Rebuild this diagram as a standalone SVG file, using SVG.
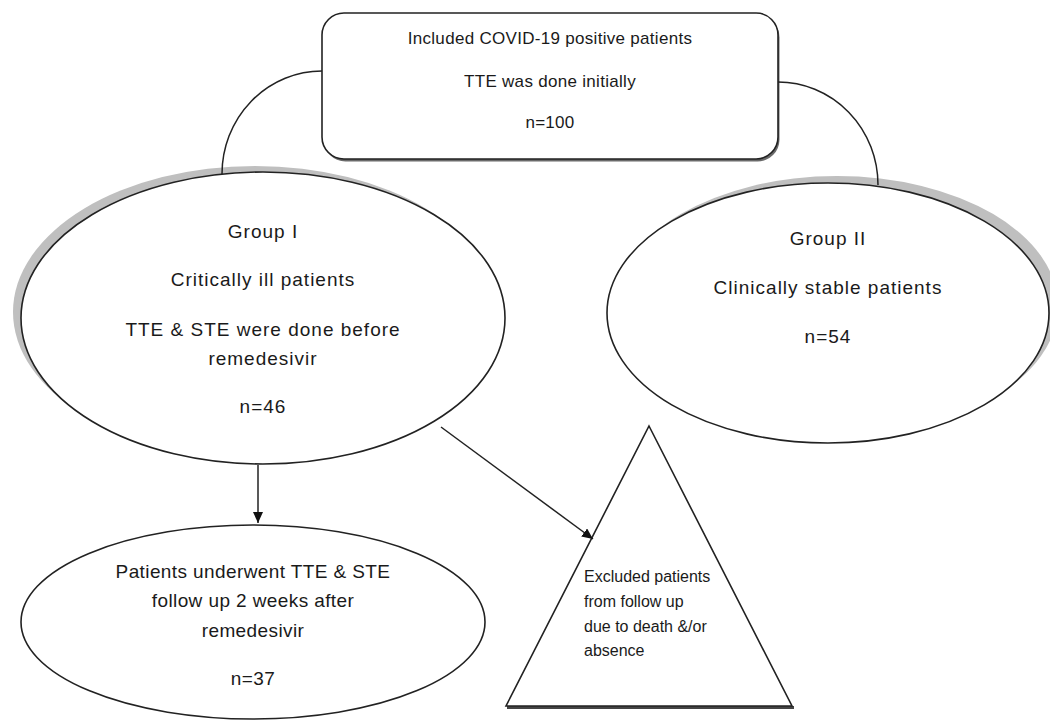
<svg xmlns="http://www.w3.org/2000/svg" width="1050" height="722" viewBox="0 0 1050 722">
<style>
  .txt{font-family:"Liberation Sans",Arial,sans-serif;fill:#1a1a1a}
  .g{font-size:19px;letter-spacing:1px}
  .top{font-size:17px;letter-spacing:0.3px}
  .bot{font-size:19px;letter-spacing:0.4px}
  .tri{font-size:16px}
  .shape{fill:#fff;stroke:#222;stroke-width:1.6}
  .shadow{fill:#bfbfbf;stroke:none}
  .conn{fill:none;stroke:#222;stroke-width:1.5}
</style>
<defs>
  <marker id="arrow" markerUnits="userSpaceOnUse" markerWidth="12" markerHeight="10" refX="11" refY="5" orient="auto">
    <path d="M0,0 L11,5 L0,10 z" fill="#111"/>
  </marker>
</defs>
<rect width="1050" height="722" fill="#fff"/>

<g id="node-top">
  <rect x="323.5" y="15.5" width="456" height="146" rx="22" fill="#6a6a6a"/>
  <rect x="322" y="13" width="456" height="146" rx="22" class="shape"/>
  <text class="txt top" x="550" y="44" text-anchor="middle">Included COVID-19 positive patients</text>
  <text class="txt top" x="550" y="87" text-anchor="middle">TTE was done initially</text>
  <text class="txt top" x="550" y="128" text-anchor="middle">n=100</text>
</g>

<g id="node-group1">
  <ellipse cx="255" cy="312" rx="242" ry="146" class="shadow"/>
  <ellipse cx="263" cy="318" rx="242" ry="146" class="shape"/>
  <text class="txt g" x="263" y="238" text-anchor="middle">Group I</text>
  <text class="txt g" x="263" y="286" text-anchor="middle">Critically ill patients</text>
  <text class="txt g" x="263" y="336" text-anchor="middle">TTE &amp; STE were done before</text>
  <text class="txt g" x="263" y="365" text-anchor="middle">remedesivir</text>
  <text class="txt g" x="263" y="413" text-anchor="middle">n=46</text>
</g>

<g id="node-group2">
  <ellipse cx="837" cy="306" rx="221" ry="130" class="shadow"/>
  <ellipse cx="828" cy="313" rx="221" ry="130" class="shape"/>
  <text class="txt g" x="828" y="245" text-anchor="middle">Group II</text>
  <text class="txt g" x="828" y="294" text-anchor="middle">Clinically stable patients</text>
  <text class="txt g" x="828" y="343" text-anchor="middle">n=54</text>
</g>

<g id="node-followup">
  <ellipse cx="253" cy="622" rx="232" ry="97" class="shape"/>
  <text class="txt bot" x="253" y="578" text-anchor="middle">Patients underwent TTE &amp; STE</text>
  <text class="txt bot" x="253" y="607" text-anchor="middle">follow up 2 weeks after</text>
  <text class="txt bot" x="253" y="637" text-anchor="middle">remedesivir</text>
  <text class="txt bot" x="253" y="685" text-anchor="middle">n=37</text>
</g>

<g id="node-excluded">
  <line x1="507" y1="707.5" x2="794" y2="707.5" stroke="#444" stroke-width="3"/>
  <polygon points="649,426 792,706 506,706" class="shape"/>
  <text class="txt tri" x="584" y="582">Excluded patients</text>
  <text class="txt tri" x="584" y="607">from follow up</text>
  <text class="txt tri" x="584" y="632">due to death &amp;/or</text>
  <text class="txt tri" x="584" y="656">absence</text>
</g>

<g id="connectors">
  <path class="conn" d="M322,71 A100,103 0 0 0 222,174"/>
  <path class="conn" d="M778,82 A100,103 0 0 1 878,185"/>
  <line class="conn" x1="258" y1="465" x2="258" y2="523" marker-end="url(#arrow)"/>
  <line class="conn" x1="441" y1="427" x2="593" y2="539" marker-end="url(#arrow)"/>
</g>
</svg>
